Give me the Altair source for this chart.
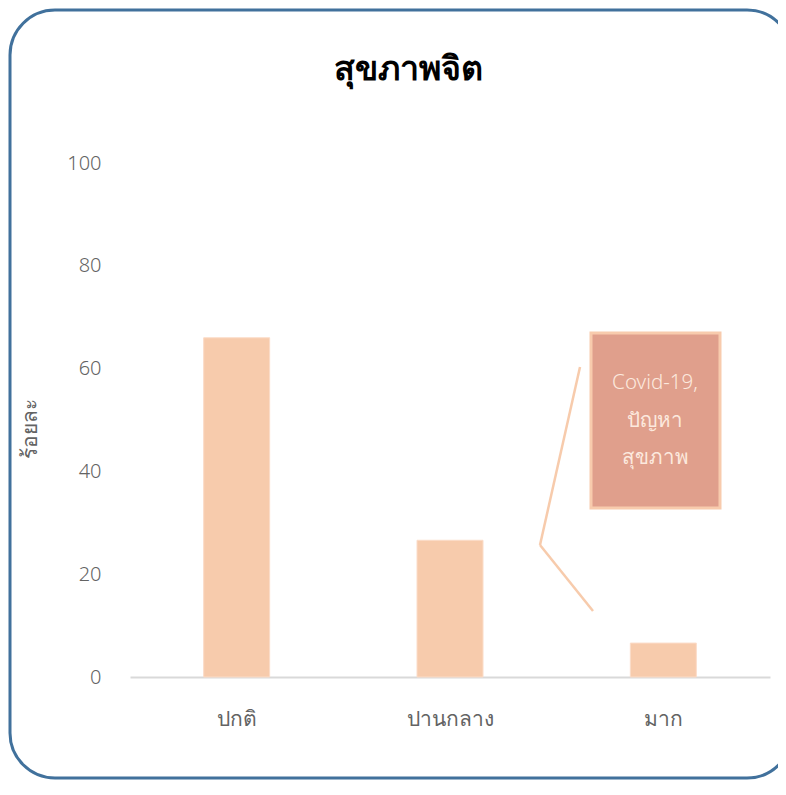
import altair as alt
import pandas as pd

# ---- data ----
categories = ["ปกติ", "ปานกลาง", "มาก"]
values = [66.0, 26.6, 6.6]
y_ticks = [0, 20, 40, 60, 80, 100]
title_text = "สุขภาพจิต"
y_title = "ร้อยละ"
callout_lines = ["Covid-19,", "ปัญหา", "สุขภาพ"]

FONT = "Noto Sans"
BAR = "#F7CBAC"
GRAY = "#636363"

df = pd.DataFrame({"cat": categories, "val": values})
one = pd.DataFrame({"k": [0]})
callout_df = pd.DataFrame({"line": callout_lines, "i": [0, 1, 2]})

W, H = 640, 514

base = alt.Chart(df)

bars = base.mark_bar(color=BAR, size=66, stroke="#FBDCC8", strokeWidth=1).encode(
    x=alt.X("cat:N", sort=categories, title=None,
            scale=alt.Scale(paddingInner=0, paddingOuter=0),
            axis=alt.Axis(labelAngle=0, labelFontSize=21, labelColor=GRAY,
                          labelFont=FONT, labelFontWeight=300, labelPadding=31,
                          ticks=False, domainColor="#D9D9D9", domainWidth=2)),
    y=alt.Y("val:Q", title=y_title,
            scale=alt.Scale(domain=[0, 100], nice=False),
            axis=alt.Axis(values=y_ticks, grid=False, ticks=False, domain=False,
                          labelFontSize=20, labelColor=GRAY, labelFont=FONT,
                          labelFontWeight=300,
                          labelPadding=29, titleFontSize=21, titleColor=GRAY,
                          titleFont=FONT, titleFontWeight=300,
                          titleX=-100, titleY=265, titleBaseline="middle",
                          titleAlign="center", titleAngle=-90)),
)

frame = alt.Chart(one).mark_rect(
    fill=None, stroke="#41719C", strokeWidth=3, cornerRadius=45
).encode(x=alt.value(-120), x2=alt.value(662), y=alt.value(-153), y2=alt.value(615))

title = alt.Chart(one).mark_text(
    text=title_text, fontSize=34, fontWeight="bold", font=FONT, color="#000000",
    align="center", baseline="middle"
).encode(x=alt.value(278), y=alt.value(-93))

box = alt.Chart(one).mark_rect(
    fill="#E09F8C", stroke="#F8CBAD", strokeWidth=3
).encode(x=alt.value(461), x2=alt.value(590), y=alt.value(170), y2=alt.value(345))

ctext = alt.Chart(callout_df).mark_text(
    fontSize=20.5, font=FONT, fontWeight=300, color="#FCE9DE",
    align="center", baseline="middle"
).encode(
    text="line:N",
    x=alt.value(525),
    y=alt.Y("i:Q", scale=alt.Scale(domain=[0, 2], range=[220, 295]), axis=None),
)

leader1 = alt.Chart(one).mark_rule(color=BAR, strokeWidth=2.5).encode(
    x=alt.value(450), y=alt.value(204), x2=alt.value(410), y2=alt.value(382))
leader2 = alt.Chart(one).mark_rule(color=BAR, strokeWidth=2.5).encode(
    x=alt.value(410), y=alt.value(382), x2=alt.value(463), y2=alt.value(448))

chart = alt.layer(frame, bars, title, leader1, leader2, box, ctext).resolve_scale(
    y="independent"
).properties(
    width=W, height=H,
    autosize=alt.AutoSizeParams(type="none"),
    padding={"left": 122, "top": 155, "right": 8, "bottom": 104},
    background="white",
).configure_view(stroke=None)

chart.save("out.html", embed_options={"renderer": "svg", "actions": False})
